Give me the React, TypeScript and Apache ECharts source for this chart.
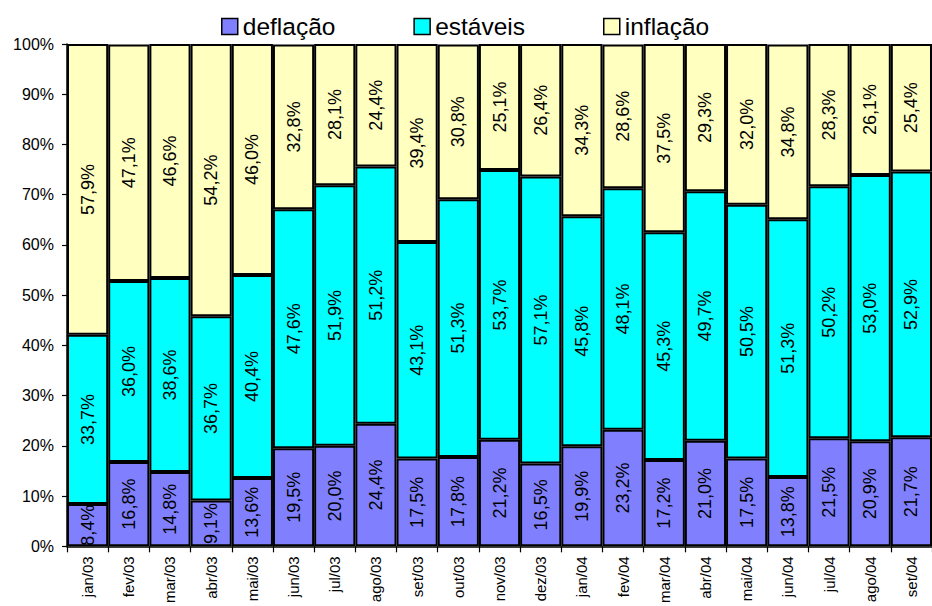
import React, { useEffect, useRef } from "react";
import * as echarts from "echarts";

const categories = [
  "jan/03", "fev/03", "mar/03", "abr/03", "mai/03", "jun/03", "jul/03",
  "ago/03", "set/03", "out/03", "nov/03", "dez/03", "jan/04", "fev/04",
  "mar/04", "abr/04", "mai/04", "jun/04", "jul/04", "ago/04", "set/04",
];
const deflacao = [8.4, 16.8, 14.8, 9.1, 13.6, 19.5, 20.0, 24.4, 17.5, 17.8, 21.2, 16.5, 19.9, 23.2, 17.2, 21.0, 17.5, 13.8, 21.5, 20.9, 21.7];
const estaveis = [33.7, 36.0, 38.6, 36.7, 40.4, 47.6, 51.9, 51.2, 43.1, 51.3, 53.7, 57.1, 45.8, 48.1, 45.3, 49.7, 50.5, 51.3, 50.2, 53.0, 52.9];
const inflacao = [57.9, 47.1, 46.6, 54.2, 46.0, 32.8, 28.1, 24.4, 39.4, 30.8, 25.1, 26.4, 34.3, 28.6, 37.5, 29.3, 32.0, 34.8, 28.3, 26.1, 25.4];
const seriesNames = ["deflação", "estáveis", "inflação"];
const seriesColors = ["#8080FF", "#00FFFF", "#FFFFC0"];

const FONT = "'Liberation Sans', Arial, sans-serif";
const fmt = (v: number) => v.toFixed(1).replace(".", ",") + "%";

export default function App() {
  const ref = useRef<HTMLDivElement>(null);
  useEffect(() => {
    if (!ref.current) return;
    const chart = echarts.init(ref.current, undefined, { renderer: "svg" });
    const data = [deflacao, estaveis, inflacao];
    chart.setOption({
      animation: false,
      backgroundColor: "#fff",
      textStyle: { fontFamily: FONT, color: "#000" },
      legend: {
        left: 221,
        top: 14,
        padding: 0,
        itemWidth: 16,
        itemHeight: 16,
        itemGap: 78,
        icon: "rect",
        itemStyle: { borderColor: "#000", borderWidth: 1.5 },
        textStyle: { fontFamily: FONT, fontSize: 24.5, color: "#000" },
        data: seriesNames,
      },
      grid: { left: 67, top: 44, bottom: 56, right: -11.4, containLabel: false },
      xAxis: {
        type: "category",
        data: categories,
        axisLine: { lineStyle: { color: "#000", width: 1.5 } },
        axisTick: { show: true, length: 6, lineStyle: { color: "#000", width: 1.2 } },
        axisLabel: {
          rotate: 90,
          interval: 0,
          margin: 10,
          fontSize: 15,
          fontFamily: FONT,
          color: "#000",
        },
      },
      yAxis: {
        type: "value",
        min: 0,
        max: 100,
        interval: 10,
        splitLine: { show: false },
        axisLine: { show: true, lineStyle: { color: "#000", width: 1.5 } },
        axisTick: { show: true, length: 5, lineStyle: { color: "#000", width: 1.2 } },
        axisLabel: {
          formatter: (v: number) => v + "%",
          fontSize: 16,
          fontFamily: FONT,
          color: "#000",
          margin: 13,
        },
      },
      series: seriesNames.map((name, i) => ({
        name,
        type: "bar",
        stack: "total",
        barCategoryGap: 0,
        barGap: 0,
        data: data[i],
        itemStyle: { color: seriesColors[i], borderColor: "#000", borderWidth: 2 },
        label: {
          show: true,
          position: "inside",
          rotate: 90,
          fontSize: 18,
          fontFamily: FONT,
          color: "#000",
          formatter: (p: any) => fmt(p.value),
        },
      })),
    });
    return () => chart.dispose();
  }, []);
  return (
    <div
      ref={ref}
      style={{ position: "fixed", left: 0, top: 0, width: 932, height: 606, overflow: "hidden", background: "#fff" }}
    />
  );
}
